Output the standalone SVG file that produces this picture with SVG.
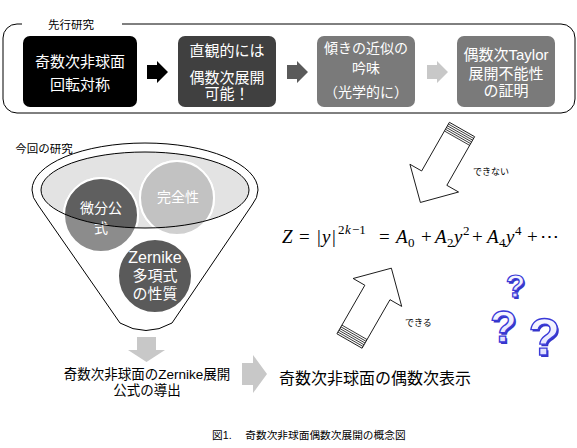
<svg xmlns="http://www.w3.org/2000/svg" width="577" height="448" viewBox="0 0 577 448">
<style>
.jp{font-family:"Liberation Sans","Noto Sans CJK JP",sans-serif;}
.w{fill:#fff;}
.k{fill:#000;}
.c{text-anchor:middle;dominant-baseline:central;}
.box{stroke:none;}
.math{font-family:"Liberation Serif","DejaVu Serif",serif;font-size:19px;fill:#000;}
.it{font-style:italic;}
.s{font-size:13px;}
.sarrow{fill:#fff;stroke:#000;stroke-width:0.8;}
.stripe{stroke:#000;stroke-width:0.7;}
.q{font-family:"Liberation Sans",sans-serif;font-weight:bold;text-anchor:middle;}
</style>
<defs>
<linearGradient id="qg" x1="0" y1="0" x2="0" y2="1">
<stop offset="0" stop-color="#ffffff"/>
<stop offset="1" stop-color="#d8d8ff"/>
</linearGradient>
<clipPath id="inner"><ellipse cx="145" cy="190" rx="104" ry="38"/></clipPath>
<g id="striped">
<polygon class="sarrow" points="0,-14.5 56,-14.5 56,-28 84,0 56,28 56,14.5 0,14.5"/>
<path class="stripe" d="M2,-14.5V14.5M4,-14.5V14.5M6,-14.5V14.5M8,-14.5V14.5M10,-14.5V14.5"/>
</g>
</defs>

<!-- Previous research container -->
<g id="prev">
<rect x="3" y="24" width="572" height="89" rx="14" fill="none" stroke="#000" stroke-width="1"/>
<rect x="22" y="14" width="100" height="20" fill="#fff"/>
<text class="jp k c" x="71" y="25" font-size="11.5">先行研究</text>
</g>

<g id="box1">
<rect class="box" x="23" y="36" width="114" height="71" rx="7" fill="#000"/>
<text class="jp w c" x="80" y="61" font-size="15">奇数次非球面</text>
<text class="jp w c" x="80" y="84" font-size="15">回転対称</text>
</g>
<g id="box2">
<rect class="box" x="178" y="36" width="98" height="71" rx="7" fill="#404040"/>
<text class="jp w c" x="227" y="50" font-size="15">直観的には</text>
<text class="jp w c" x="227" y="77" font-size="15">偶数次展開</text>
<text class="jp w c" x="227" y="93" font-size="15">可能！</text>
</g>
<g id="box3">
<rect class="box" x="317" y="36" width="98" height="71" rx="7" fill="#7a7a7a"/>
<text class="jp w c" x="366" y="48" font-size="14">傾きの近似の</text>
<text class="jp w c" x="366" y="68" font-size="14">吟味</text>
<text class="jp w c" x="366" y="92" font-size="14">（光学的に）</text>
</g>
<g id="box4">
<rect class="box" x="457" y="36" width="98" height="71" rx="7" fill="#7a7a7a"/>
<text class="jp w c" x="506" y="54" font-size="15">偶数次Taylor</text>
<text class="jp w c" x="506" y="73" font-size="15">展開不能性</text>
<text class="jp w c" x="506" y="90" font-size="15">の証明</text>
</g>

<!-- Funnel -->
<g id="funnel">
<path d="M32,190 A113,47 0 0 1 258,190 A113,47 0 0 1 252,205 L172,323 Q146,338 120,323 L38,205 A113,47 0 0 1 32,190 Z" fill="#fff" stroke="#000" stroke-width="1"/>
<ellipse cx="145" cy="190" rx="104" ry="38" fill="#e3e3e3"/>
<text class="jp k c" x="44" y="149" font-size="11.5">今回の研究</text>
</g>
<g id="c-bibun">
<circle cx="101" cy="215" r="37" fill="#8c8c8c" stroke="#fff" stroke-width="2"/>
<circle cx="101" cy="215" r="37" fill="#5f5f5f" stroke="#fff" stroke-width="2" clip-path="url(#inner)"/>
<text class="jp w c" x="101" y="208" font-size="14">微分公</text>
<text class="jp w c" x="101" y="228" font-size="14">式</text>
</g>
<g id="c-kanzen">
<circle cx="177" cy="198" r="37" fill="#d0d0d0" stroke="#fff" stroke-width="2"/>
<circle cx="177" cy="198" r="37" fill="#c2c2c2" stroke="#fff" stroke-width="2" clip-path="url(#inner)"/>
<text class="jp w c" x="178" y="197" font-size="14">完全性</text>
</g>
<ellipse cx="145" cy="190" rx="104" ry="38" fill="none" stroke="#000" stroke-width="1"/>
<g id="c-zernike">
<circle cx="155" cy="276" r="37" fill="#5a5a5a" stroke="#fff" stroke-width="2"/>
<text class="jp w c" x="155" y="257" font-size="16">Zernike</text>
<text class="jp w c" x="155" y="275" font-size="15">多項式</text>
<text class="jp w c" x="155" y="293" font-size="15">の性質</text>
</g>

<g id="derive">
<text class="jp k c" x="147" y="374" font-size="13.5">奇数次非球面のZernike展開</text>
<text class="jp k c" x="147" y="390" font-size="13.5">公式の導出</text>
</g>
<g id="even">
<text class="jp k c" x="375" y="378" font-size="16">奇数次非球面の偶数次表示</text>
</g>

<g id="formula">
<text class="math"><tspan x="282" y="243" class="it">Z</tspan><tspan x="299" y="243">=</tspan><tspan x="317" y="243">|</tspan><tspan x="322" y="243" class="it">y</tspan><tspan x="332" y="243">|</tspan><tspan x="338" y="234" class="s">2</tspan><tspan x="345" y="234" class="s it">k</tspan><tspan x="352" y="234" class="s">−1</tspan><tspan x="379" y="243">=</tspan><tspan x="396" y="243" class="it">A</tspan><tspan x="408" y="247" class="s">0</tspan><tspan x="421" y="243">+</tspan><tspan x="435" y="243" class="it">A</tspan><tspan x="447" y="247" class="s">2</tspan><tspan x="454" y="243" class="it">y</tspan><tspan x="463" y="235" class="s">2</tspan><tspan x="472" y="243">+</tspan><tspan x="487" y="243" class="it">A</tspan><tspan x="499" y="247" class="s">4</tspan><tspan x="506" y="243" class="it">y</tspan><tspan x="515" y="235" class="s">4</tspan><tspan x="527" y="243">+</tspan><tspan x="540" y="243">⋯</tspan></text>
</g>

<g id="q-marks">
<text class="q" x="517" y="298.5" font-size="32" fill="#3535c8">?</text>
<text class="q" x="515.5" y="297" font-size="32" fill="url(#qg)" stroke="#3a3ad8" stroke-width="1.2">?</text>
<text class="q" x="505" y="343.5" font-size="44" fill="#3535c8">?</text>
<text class="q" x="503.5" y="342" font-size="44" fill="url(#qg)" stroke="#3a3ad8" stroke-width="1.3">?</text>
<text class="q" x="546" y="356.5" font-size="52" fill="#3535c8">?</text>
<text class="q" x="544.5" y="355" font-size="52" fill="url(#qg)" stroke="#3a3ad8" stroke-width="1.4">?</text>
</g>

<g id="connectors">
<polygon points="147,65 157,65 157,61 168,72 157,83 157,79 147,79" fill="#000"/>
<polygon points="287,65 297,65 297,61 308,72 297,83 297,79 287,79" fill="#5a5a5a"/>
<polygon points="427,65 437,65 437,61 448,72 437,83 437,79 427,79" fill="#c8c8c8"/>
<polygon points="137,337 156,337 156,350 165,350 146.5,362 128,350 137,350" fill="#c8c8c8"/>
<polygon points="242,363 253,363 253,355 267,374 253,393 253,385 242,385" fill="#c8c8c8"/>
<use href="#striped" transform="translate(462,129.5) rotate(119.7)"/>
<use href="#striped" transform="translate(349.5,341) rotate(-60.1)"/>
<text class="jp k" x="473" y="175" font-size="9">できない</text>
<text class="jp k" x="405" y="326" font-size="9">できる</text>
</g>

<text class="jp k" x="212" y="439" font-size="10.7">図1.　 奇数次非球面偶数次展開の概念図</text>
</svg>
